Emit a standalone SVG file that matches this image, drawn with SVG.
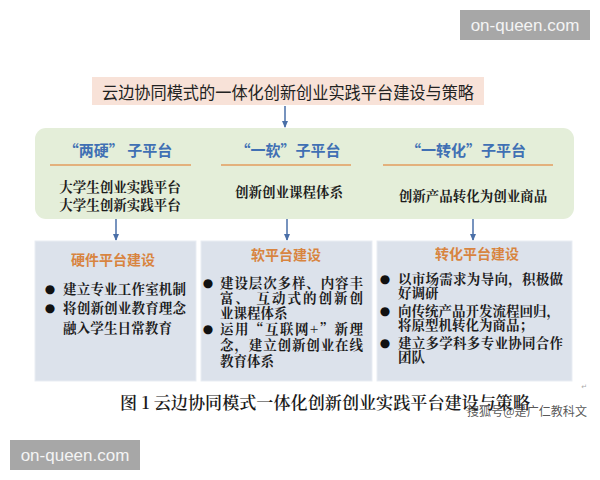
<svg xmlns="http://www.w3.org/2000/svg" width="600" height="480" viewBox="0 0 600 480">
<defs>
<marker id="ah" viewBox="0 0 8 8" refX="7" refY="4" markerWidth="7" markerHeight="7" orient="auto" markerUnits="userSpaceOnUse">
<path d="M0,0.5 L8,4 L0,7.5 z" fill="#4a6fa8"/>
</marker>
<style>
.cjk{font-family:"Noto Sans CJK SC","Noto Sans",sans-serif;}
.ser{font-family:"Noto Serif CJK SC","Liberation Serif","Noto Sans CJK SC",serif;}
.title{font-size:17px;fill:#222;}
.sub{font-size:15px;font-weight:700;fill:#4070b4;}
.body{font-size:13.5px;font-weight:700;fill:#1c1c1c;}
.hdr{font-size:14px;font-weight:700;fill:#d8843f;}
.bul{font-family:"DejaVu Sans",sans-serif;font-size:12px;fill:#111;text-anchor:middle;}
.box{fill:#dce2eb;stroke:#e9edf3;stroke-width:1;}
.oline{stroke:#e39c5e;stroke-width:1.6;}
.conn{stroke:#4a6fa8;stroke-width:1.5;fill:none;marker-end:url(#ah);}
.wm{fill:#a7a7a7;}
.wmt{font-family:"Liberation Sans",Arial,sans-serif;font-size:17px;fill:#f4f4f4;}
</style>
</defs>
<rect width="600" height="480" fill="#ffffff"/>

<g id="watermark-top">
<rect class="wm" x="460" y="10" width="130" height="30"/>
<text class="wmt" x="525" y="31" text-anchor="middle">on-queen.com</text>
</g>

<g id="title">
<rect x="92" y="77" width="392" height="28" fill="#f8e2d8"/>
<text class="cjk title" x="288" y="99" text-anchor="middle" textLength="372" lengthAdjust="spacingAndGlyphs">云边协同模式的一体化创新创业实践平台建设与策略</text>
</g>

<g id="subplatforms">
<rect x="35" y="128" width="539" height="91" rx="11" ry="11" fill="#e4eed9"/>
<g id="sub-lianying">
<text class="cjk sub" x="118" y="156" text-anchor="middle">“两硬”  子平台</text>
<line class="oline" x1="50" y1="165" x2="191" y2="165"/>
<text class="ser body" text-anchor="middle"><tspan x="120" y="192">大学生创业实践平台</tspan><tspan x="120" y="210">大学生创新实践平台</tspan></text>
</g>
<g id="sub-yiruan">
<text class="cjk sub" x="288" y="156" text-anchor="middle">“一软”子平台</text>
<line class="oline" x1="221" y1="165" x2="351" y2="165"/>
<text class="ser body" x="289" y="197" text-anchor="middle">创新创业课程体系</text>
</g>
<g id="sub-yizhuanhua">
<text class="cjk sub" x="466" y="156" text-anchor="middle">“一转化”子平台</text>
<line class="oline" x1="383" y1="165" x2="553" y2="165"/>
<text class="ser body" x="473" y="201" text-anchor="middle">创新产品转化为创业商品</text>
</g>
</g>

<g id="connectors">
<line class="conn" x1="285" y1="106" x2="285" y2="127"/>
<line class="conn" x1="116" y1="219" x2="116" y2="240"/>
<line class="conn" x1="287" y1="219" x2="287" y2="240"/>
<line class="conn" x1="473" y1="219" x2="473" y2="240"/>
</g>

<g id="hardware">
<rect class="box" x="35" y="241" width="161" height="140"/>
<text class="cjk hdr" x="113" y="265" text-anchor="middle">硬件平台建设</text>
<text class="bul"><tspan x="50" y="293">●</tspan><tspan x="50" y="312">●</tspan></text>
<text class="ser body"><tspan x="63" y="294" textLength="123" lengthAdjust="spacing">建立专业工作室机制</tspan><tspan x="63" y="313" textLength="123" lengthAdjust="spacing">将创新创业教育理念</tspan><tspan x="63" y="333" textLength="109" lengthAdjust="spacing">融入学生日常教育</tspan></text>
</g>

<g id="software">
<rect class="box" x="201" y="241" width="171" height="140"/>
<text class="cjk hdr" x="286" y="260" text-anchor="middle">软平台建设</text>
<text class="bul"><tspan x="208" y="287">●</tspan><tspan x="208" y="333">●</tspan></text>
<text class="ser body"><tspan x="220" y="288" textLength="143" lengthAdjust="spacing">建设层次多样、内容丰</tspan><tspan x="220" y="303" textLength="143" lengthAdjust="spacing">富、 互动式的创新创</tspan><tspan x="220" y="318">业课程体系</tspan><tspan x="220" y="334" textLength="143" lengthAdjust="spacing">运用“互联网+”新理</tspan><tspan x="220" y="350" textLength="143" lengthAdjust="spacing">念，建立创新创业在线</tspan><tspan x="220" y="366">教育体系</tspan></text>
</g>

<g id="transform">
<rect class="box" x="377" y="241" width="195" height="140"/>
<text class="cjk hdr" x="477" y="259" text-anchor="middle">转化平台建设</text>
<text class="bul"><tspan x="385" y="283">●</tspan><tspan x="385" y="315">●</tspan><tspan x="385" y="347">●</tspan></text>
<text class="ser body"><tspan x="398" y="284" textLength="165" lengthAdjust="spacing">以市场需求为导向，积极做</tspan><tspan x="398" y="298">好调研</tspan><tspan x="398" y="316" textLength="162" lengthAdjust="spacing">向传统产品开发流程回归，</tspan><tspan x="398" y="330">将原型机转化为商品；</tspan><tspan x="398" y="348" textLength="165" lengthAdjust="spacing">建立多学科多专业协同合作</tspan><tspan x="398" y="362">团队</tspan></text>
</g>

<g id="caption">
<text x="120" y="409" class="ser" font-size="16.5" font-weight="600" fill="#1a1a1a" textLength="410" lengthAdjust="spacingAndGlyphs">图 1  云边协同模式一体化创新创业实践平台建设与策略</text>
<text x="587" y="389" font-family="'DejaVu Sans',sans-serif" font-size="7" fill="#aaaaaa" text-anchor="end">↵</text>
<text x="467" y="416" font-family="'Noto Sans CJK SC',sans-serif" font-size="12" fill="#3a3a3a" fill-opacity="0.85" textLength="120" lengthAdjust="spacingAndGlyphs">搜狐号@是广仁教科文</text>
</g>

<g id="watermark-bottom">
<rect class="wm" x="10" y="440" width="130" height="30"/>
<text class="wmt" x="75" y="461" text-anchor="middle">on-queen.com</text>
</g>
</svg>
